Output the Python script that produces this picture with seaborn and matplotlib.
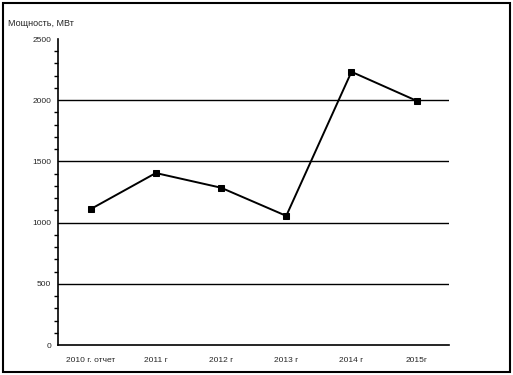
import matplotlib
matplotlib.use("Agg")
import matplotlib.pyplot as plt
import seaborn as sns
import pandas as pd
from matplotlib.ticker import MultipleLocator, FixedLocator, NullFormatter
from matplotlib.patches import Rectangle

categories = ["2010 г. отчет", "2011 г", "2012 г", "2013 г", "2014 г", "2015г"]
values = [1110, 1405, 1285, 1055, 2232, 1995]
y_label = "Мощность, МВт"

sns.set_theme(style="white")
plt.rcParams['font.family'] = ['Liberation Sans', 'DejaVu Sans']

fig = plt.figure(figsize=(5.13, 3.75), dpi=100)
ax = fig.add_axes([58/513, 1-345/375, (449.3-58)/513, (345-39)/375])

df = pd.DataFrame({"x": range(len(categories)), "y": values})
sns.lineplot(data=df, x="x", y="y", ax=ax, color="black", linewidth=1.4,
             marker="s", markersize=4.5, markeredgecolor="black", markerfacecolor="black")

ax.set_ylim(0, 2500)
ax.set_xlim(-0.5, len(categories) - 0.5)
ax.yaxis.set_major_locator(MultipleLocator(500))
ax.yaxis.set_minor_locator(MultipleLocator(100))
for v in [500, 1000, 1500, 2000]:
    ax.axhline(v, color="black", linewidth=1.0, zorder=0)

ax.xaxis.set_major_locator(FixedLocator([i - 0.5 for i in range(len(categories) + 1)]))
ax.xaxis.set_major_formatter(NullFormatter())
ax.xaxis.set_minor_locator(FixedLocator(list(range(len(categories)))))
ax.set_xticklabels(categories, minor=True)
ax.tick_params(axis="x", which="minor", length=0, labelsize=6, pad=9)
ax.tick_params(axis="x", which="major", length=3.5, width=1, direction="out", color="black")
ax.tick_params(axis="y", which="major", length=3.5, width=1, labelsize=6, direction="out", color="black", pad=1.5)
ax.tick_params(axis="y", which="minor", length=3, width=1, direction="out", color="black", left=True)

ax.set_xlabel("")
ax.set_ylabel("")
for s in ["top", "right"]:
    ax.spines[s].set_visible(False)
for s in ["left", "bottom"]:
    ax.spines[s].set_color("black")
    ax.spines[s].set_linewidth(1.2)

fig.text(8/513, 1-23/375, y_label, fontsize=6.5, ha="left", va="center")

fig.patches.append(Rectangle((3/513, 3/375), 507/513, 369/375, transform=fig.transFigure,
                             fill=False, edgecolor="black", linewidth=1.5))

fig.savefig("out.png", dpi=100)
